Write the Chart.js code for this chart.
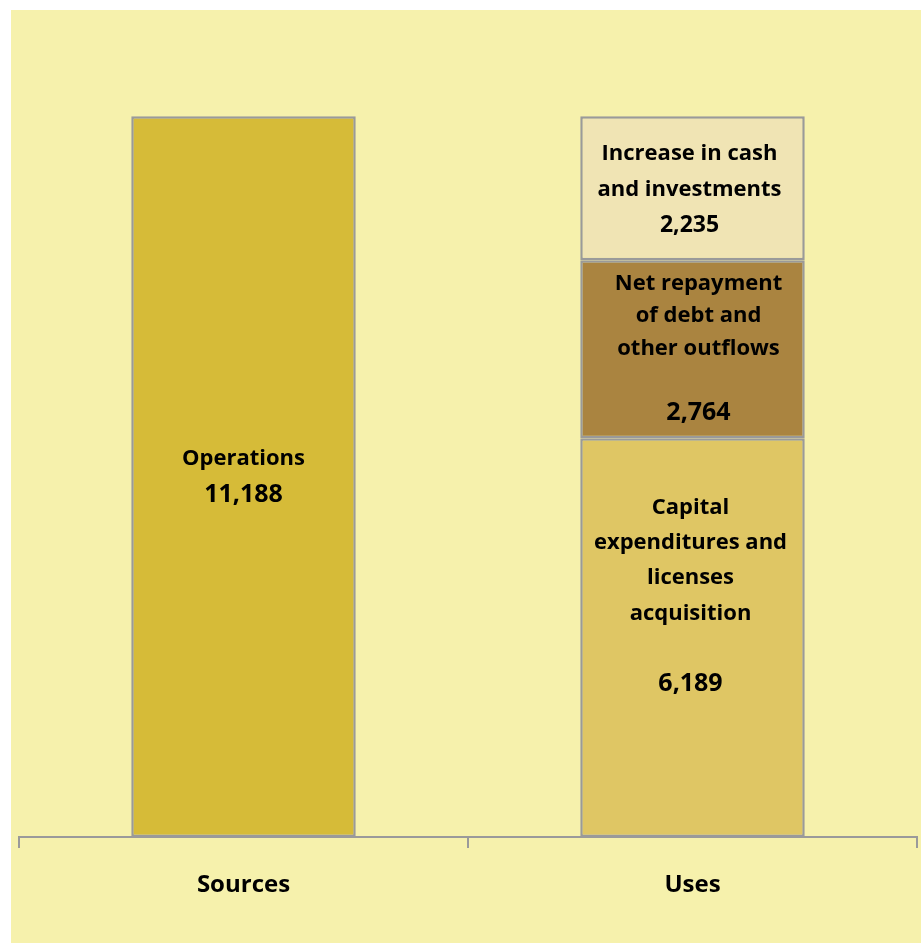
<!DOCTYPE html>
<html>
<head>
<meta charset="utf-8">
<script src="https://cdn.jsdelivr.net/npm/chart.js@4.4.1/dist/chart.umd.min.js"></script>
<style>
  html, body { margin: 0; padding: 0; background: #fff; }
  #wrap { width: 921px; height: 943px; position: relative; }
</style>
</head>
<body>
<div id="wrap"><canvas id="c" width="921" height="943"></canvas></div>
<script>
// categories and values (millions)
const categories = ["Sources", "Uses"];
const operations = [11188, null];
const capex = [null, 6189];
const repayment = [null, 2764];
const cashIncrease = [null, 2235];

const segmentLabels = {
  operations: ["Operations", "11,188"],
  capex: ["Capital", "expenditures and", "licenses", "acquisition", "", "6,189"],
  repayment: ["Net repayment", "of debt and", "other outflows", "", "2,764"],
  cashIncrease: ["Increase in cash", "and investments", "2,235"]
};

const FONT = "'Open Sans', Lato, sans-serif";

const bgPlugin = {
  id: "bg",
  beforeDraw(chart) {
    const ctx = chart.ctx;
    ctx.save();
    ctx.fillStyle = "#ffffff";
    ctx.fillRect(0, 0, chart.width, chart.height);
    ctx.fillStyle = "#F6F1AC";
    ctx.fillRect(11, 10, chart.width - 11, chart.height - 10);
    ctx.restore();
  }
};

const labelPlugin = {
  id: "segLabels",
  afterDatasetsDraw(chart) {
    const ctx = chart.ctx;
    ctx.save();
    ctx.fillStyle = "#000";
    ctx.textAlign = "center";
    ctx.textBaseline = "middle";
    chart.data.datasets.forEach((ds, di) => {
      const meta = chart.getDatasetMeta(di);
      meta.data.forEach((bar, i) => {
        if (ds.data[i] == null) return;
        const lines = segmentLabels[ds.key];
        const cy = (bar.y + bar.base) / 2 + (ds.labelShift || 0);
        const lh = ds.lineHeight;
        const start = cy - (lines.length - 1) * lh / 2;
        lines.forEach((t, k) => {
          const isNum = k === lines.length - 1;
          ctx.font = "bold " + (isNum ? ds.numSize : 22) + "px " + FONT;
          ctx.fillText(t, bar.x + (ds.labelDx || 0), start + k * lh);
        });
      });
    });
    ctx.restore();
  }
};

new Chart(document.getElementById("c"), {
  type: "bar",
  data: {
    labels: categories,
    datasets: [
      { key: "operations", data: operations, backgroundColor: "#D6BB38", lineHeight: 36, labelShift: 0, numSize: 25 },
      { key: "capex", data: capex, backgroundColor: "#DFC664", lineHeight: 35.2, labelShift: -42, numSize: 25, labelDx: -2 },
      { key: "repayment", data: repayment, backgroundColor: "#AA8440", lineHeight: 32.5, labelShift: -1, numSize: 25, labelDx: 6 },
      { key: "cashIncrease", data: cashIncrease, backgroundColor: "#F0E4B4", lineHeight: 36, labelShift: 1, numSize: 23, labelDx: -3 }
    ].map(d => Object.assign({
      borderColor: "#9A9A9A",
      borderWidth: 2.5,
      borderSkipped: false,
      barPercentage: 0.5,
      categoryPercentage: 1.0,
      skipNull: true,
      grouped: false
    }, d))
  },
  options: {
    responsive: false,
    animation: false,
    events: [],
    layout: { padding: { top: 64, left: 19, right: 4, bottom: 0 } },
    plugins: { legend: { display: false }, tooltip: { enabled: false } },
    scales: {
      x: {
        stacked: true,
        grid: {
          offset: true,
          drawOnChartArea: false,
          drawTicks: true,
          tickLength: 11,
          color: "#9A9A9A",
          lineWidth: 2
        },
        border: { display: true, color: "#9A9A9A", width: 2 },
        ticks: {
          color: "#000",
          padding: 23,
          font: { family: FONT, size: 24, weight: "bold" }
        },
        afterFit(scale) { scale.height = 106; }
      },
      y: {
        stacked: true,
        display: false,
        min: 0,
        max: 12000
      }
    }
  },
  plugins: [bgPlugin, labelPlugin]
});
</script>
</body>
</html>
